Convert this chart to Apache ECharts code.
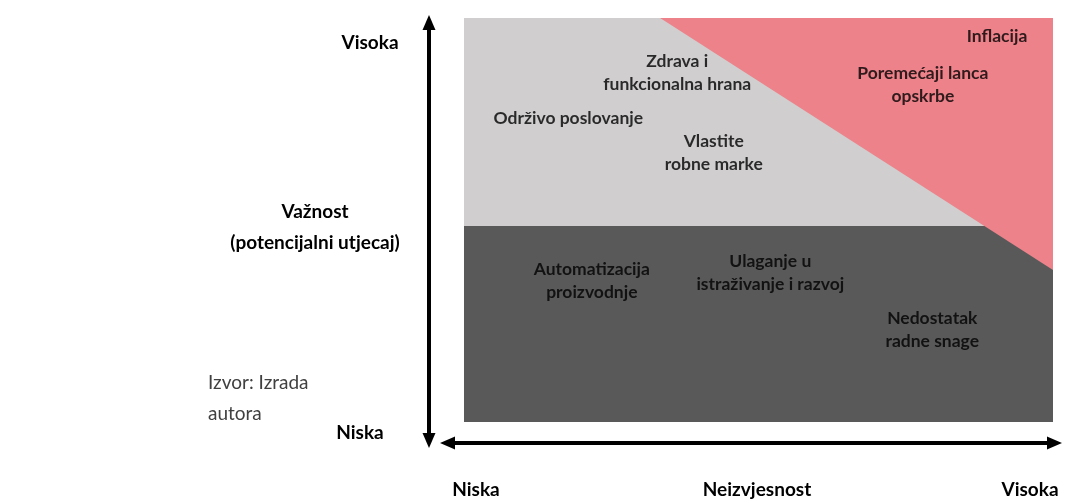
<!DOCTYPE html>
<html><head><meta charset="utf-8">
<script src="https://cdn.jsdelivr.net/npm/echarts@6/dist/echarts.min.js"></script>
<style>html,body{margin:0;padding:0;background:#fff}#c{width:1069px;height:500px}</style>
</head><body><div id="c"></div>
<script>
// ---- data ----
const riskNames = ['Inflacija', 'Poremećaji lanca\nopskrbe', 'Zdrava i\nfunkcionalna hrana', 'Održivo poslovanje',
  'Vlastite\nrobne marke', 'Automatizacija\nproizvodnje', 'Ulaganje u\nistraživanje i razvoj', 'Nedostatak\nradne snage'];
const uncertainty = [90.5, 77.9, 36.2, 17.7, 42.4, 21.7, 52.0, 79.5];
const importance = [95.5, 83.4, 86.5, 75.2, 66.5, 35.0, 36.8, 22.8];
const zoneLow = [[0, 0], [100, 0], [100, 48.5], [0, 48.5]];
const zoneHigh = [[0, 48.5], [100, 48.5], [100, 100], [0, 100]];
const zoneCritical = [[33.3, 100], [100, 100], [100, 37.6]];
const yTickLabels = ['Niska', 'Visoka'];
const xTickLabels = ['Niska', 'Visoka'];
const yAxisTitle = 'Važnost\n(potencijalni utjecaj)';
const xAxisTitle = 'Neizvjesnost';
const sourceNote = 'Izvor: Izrada\nautora';

// ---- chart ----
const chart = echarts.init(document.getElementById('c'), null, {renderer: 'canvas'});
function zone(points, color, z) {
  return {
    type: 'custom', coordinateSystem: 'cartesian2d', clip: false, silent: true, z: z,
    data: [points[0]],
    renderItem: function (params, api) {
      return {type: 'polygon', shape: {points: points.map(function (p) { return api.coord(p); })},
        style: {fill: color}};
    }
  };
}
function axisLine() {
  return {show: true, onZero: false, symbol: ['triangle', 'triangle'], symbolSize: [13, 15],
    lineStyle: {color: '#000', width: 4}};
}
const boldFont = {fontFamily: 'Lato', fontWeight: 'bold', fill: '#000', align: 'center', verticalAlign: 'middle'};
function txt(text, x, y, extra) {
  return {type: 'text', x: x, y: y, silent: true,
    style: Object.assign({text: text, fontSize: 19}, boldFont, extra || {})};
}
chart.setOption({
  animation: false,
  grid: {left: 447.5, right: 14.5, top: 22.5, bottom: 59.5, containLabel: false, outerBoundsMode: 'none'},
  xAxis: {type: 'value', min: -2.801, max: 100.255, offset: 2.5, axisLine: axisLine(),
    axisTick: {show: false}, axisLabel: {show: false}, splitLine: {show: false}},
  yAxis: {type: 'value', min: -4.579, max: 98.886, offset: 18.5, axisLine: axisLine(),
    axisTick: {show: false}, axisLabel: {show: false}, splitLine: {show: false}},
  series: [
    zone(zoneHigh, '#D0CECE', 1),
    zone(zoneLow, '#595959', 1),
    zone(zoneCritical, '#ED828A', 2),
    {
      type: 'scatter', symbolSize: 0, silent: true, z: 10, clip: false,
      data: uncertainty.map(function (x, i) { return [x, importance[i], riskNames[i]]; }),
      label: {show: true, position: 'inside', formatter: function (p) { return p.data[2]; },
        fontFamily: 'Lato', fontWeight: 'bold', fontSize: 17.5, lineHeight: 23, color: '#000',
        align: 'center', verticalAlign: 'middle'}
    }
  ],
  graphic: [
    txt(yTickLabels[1], 370, 43),
    txt(yTickLabels[0], 360, 433),
    txt(yAxisTitle, 315, 227, {lineHeight: 31}),
    txt(xTickLabels[0], 476, 490),
    txt(xAxisTitle, 757, 490),
    txt(xTickLabels[1], 1030, 490),
    {type: 'text', x: 208, y: 398.5, silent: true,
      style: {text: sourceNote, fontFamily: 'Lato', fontSize: 19, lineHeight: 31, fill: '#404040',
        align: 'left', verticalAlign: 'middle'}}
  ]
});
</script>
</body></html>
